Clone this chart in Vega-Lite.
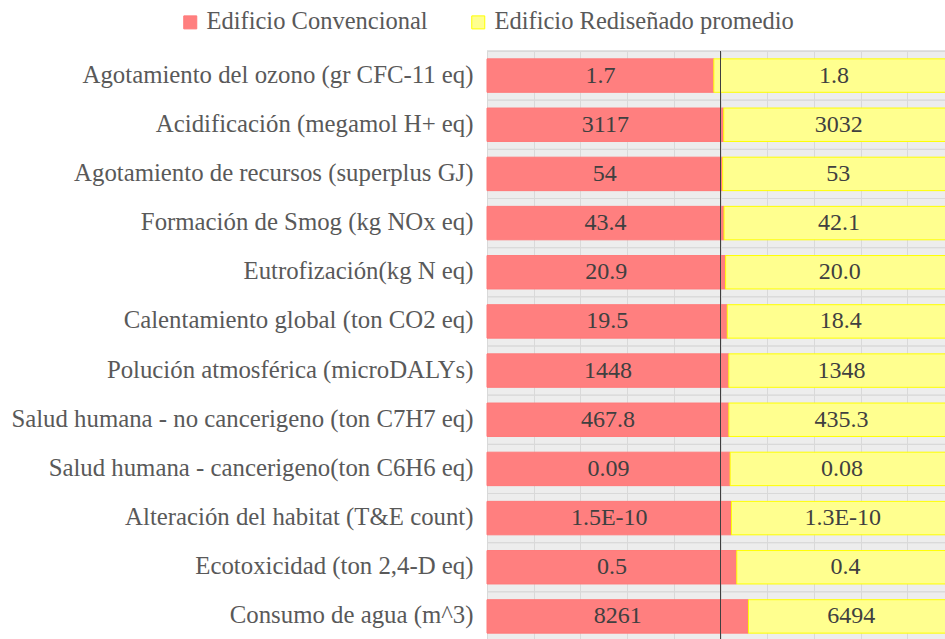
{
  "$schema": "https://vega.github.io/schema/vega-lite/v6.json",
  "width": 467,
  "height": 590,
  "padding": {"top": 10, "left": 10, "right": 0, "bottom": 0},
  "background": "white",
  "config": {
    "view": {"fill": "#ededed", "stroke": "#d9d9d9", "strokeWidth": 1},
    "font": "Liberation Serif"
  },
  "data": {
    "values": [
      {"cat": "Agotamiento del ozono (gr CFC-11 eq)", "serie": "Edificio Convencional", "value": 1.7, "label": "1.7"},
      {"cat": "Agotamiento del ozono (gr CFC-11 eq)", "serie": "Edificio Rediseñado promedio", "value": 1.8, "label": "1.8"},
      {"cat": "Acidificación (megamol H+ eq)", "serie": "Edificio Convencional", "value": 3117, "label": "3117"},
      {"cat": "Acidificación (megamol H+ eq)", "serie": "Edificio Rediseñado promedio", "value": 3032, "label": "3032"},
      {"cat": "Agotamiento de recursos (superplus GJ)", "serie": "Edificio Convencional", "value": 54, "label": "54"},
      {"cat": "Agotamiento de recursos (superplus GJ)", "serie": "Edificio Rediseñado promedio", "value": 53, "label": "53"},
      {"cat": "Formación de Smog (kg NOx eq)", "serie": "Edificio Convencional", "value": 43.4, "label": "43.4"},
      {"cat": "Formación de Smog (kg NOx eq)", "serie": "Edificio Rediseñado promedio", "value": 42.1, "label": "42.1"},
      {"cat": "Eutrofización(kg N eq)", "serie": "Edificio Convencional", "value": 20.9, "label": "20.9"},
      {"cat": "Eutrofización(kg N eq)", "serie": "Edificio Rediseñado promedio", "value": 20.0, "label": "20.0"},
      {"cat": "Calentamiento global (ton CO2 eq)", "serie": "Edificio Convencional", "value": 19.5, "label": "19.5"},
      {"cat": "Calentamiento global (ton CO2 eq)", "serie": "Edificio Rediseñado promedio", "value": 18.4, "label": "18.4"},
      {"cat": "Polución atmosférica (microDALYs)", "serie": "Edificio Convencional", "value": 1448, "label": "1448"},
      {"cat": "Polución atmosférica (microDALYs)", "serie": "Edificio Rediseñado promedio", "value": 1348, "label": "1348"},
      {"cat": "Salud humana - no cancerigeno (ton C7H7 eq)", "serie": "Edificio Convencional", "value": 467.8, "label": "467.8"},
      {"cat": "Salud humana - no cancerigeno (ton C7H7 eq)", "serie": "Edificio Rediseñado promedio", "value": 435.3, "label": "435.3"},
      {"cat": "Salud humana - cancerigeno(ton C6H6 eq)", "serie": "Edificio Convencional", "value": 0.088, "label": "0.09"},
      {"cat": "Salud humana - cancerigeno(ton C6H6 eq)", "serie": "Edificio Rediseñado promedio", "value": 0.081, "label": "0.08"},
      {"cat": "Alteración del habitat (T&E count)", "serie": "Edificio Convencional", "value": 1.45, "label": "1.5E-10"},
      {"cat": "Alteración del habitat (T&E count)", "serie": "Edificio Rediseñado promedio", "value": 1.32, "label": "1.3E-10"},
      {"cat": "Ecotoxicidad (ton 2,4-D eq)", "serie": "Edificio Convencional", "value": 0.46, "label": "0.5"},
      {"cat": "Ecotoxicidad (ton 2,4-D eq)", "serie": "Edificio Rediseñado promedio", "value": 0.40, "label": "0.4"},
      {"cat": "Consumo de agua (m^3)", "serie": "Edificio Convencional", "value": 8261, "label": "8261"},
      {"cat": "Consumo de agua (m^3)", "serie": "Edificio Rediseñado promedio", "value": 6494, "label": "6494"}
    ]
  },
  "transform": [
    {"stack": "value", "groupby": ["cat"], "sort": [{"field": "serie"}], "offset": "normalize", "as": ["x0", "x1"]},
    {"calculate": "(datum.x0 + datum.x1) / 2", "as": "mid"}
  ],
  "layer": [
    {
      "mark": {"type": "rule", "color": "#d9d9d9", "strokeWidth": 1},
      "encoding": {
        "y": {"field": "cat", "type": "nominal", "sort": null, "bandPosition": 0,
              "scale": {"paddingInner": 0, "paddingOuter": 0}, "axis": null}
      }
    },
    {
      "layer": [
        {
          "mark": {"type": "bar", "strokeWidth": 1},
          "encoding": {
            "y": {"field": "cat", "type": "nominal", "sort": null,
                  "scale": {"paddingInner": 0.32, "paddingOuter": 0.16},
                  "axis": {"title": null, "domain": false, "ticks": false, "labelFont": "Liberation Serif",
                           "labelFontSize": 24.8, "labelColor": "#595959", "labelPadding": 14, "labelLimit": 800}},
            "x": {"field": "x0", "type": "quantitative", "scale": {"domain": [0, 1], "nice": false},
                  "axis": {"title": null, "labels": false, "ticks": false, "domain": false, "grid": true,
                           "gridColor": "#d9d9d9", "values": [0, 0.1, 0.2, 0.3, 0.4, 0.5, 0.6, 0.7, 0.8, 0.9, 1]}},
            "x2": {"field": "x1"},
            "fill": {"field": "serie", "type": "nominal",
                     "scale": {"domain": ["Edificio Convencional", "Edificio Rediseñado promedio"], "range": ["#ff7f7f", "#ffff8f"]},
                     "legend": {"title": null, "orient": "none", "legendX": -309, "legendY": -41, "direction": "horizontal",
                                "symbolType": "square", "symbolSize": 169, "labelFont": "Liberation Serif", "labelFontSize": 24.5,
                                "labelLimit": 800, "labelColor": "#595959", "columnPadding": 38, "labelOffset": 4, "symbolStrokeWidth": 1}},
            "stroke": {"field": "serie", "type": "nominal",
                       "scale": {"domain": ["Edificio Convencional", "Edificio Rediseñado promedio"], "range": ["#ff7a7a", "#ffff00"]},
                       "legend": null}
          }
        },
        {
          "mark": {"type": "text", "font": "Liberation Serif", "fontSize": 24, "color": "#404040", "baseline": "middle"},
          "encoding": {
            "y": {"field": "cat", "type": "nominal", "sort": null},
            "x": {"field": "mid", "type": "quantitative"},
            "text": {"field": "label"}
          }
        },
        {
          "mark": {"type": "rule", "color": "#404040", "strokeWidth": 1},
          "encoding": {"x": {"datum": 0.5, "type": "quantitative"}}
        }
      ]
    }
  ],
  "resolve": {"scale": {"y": "independent"}}
}
